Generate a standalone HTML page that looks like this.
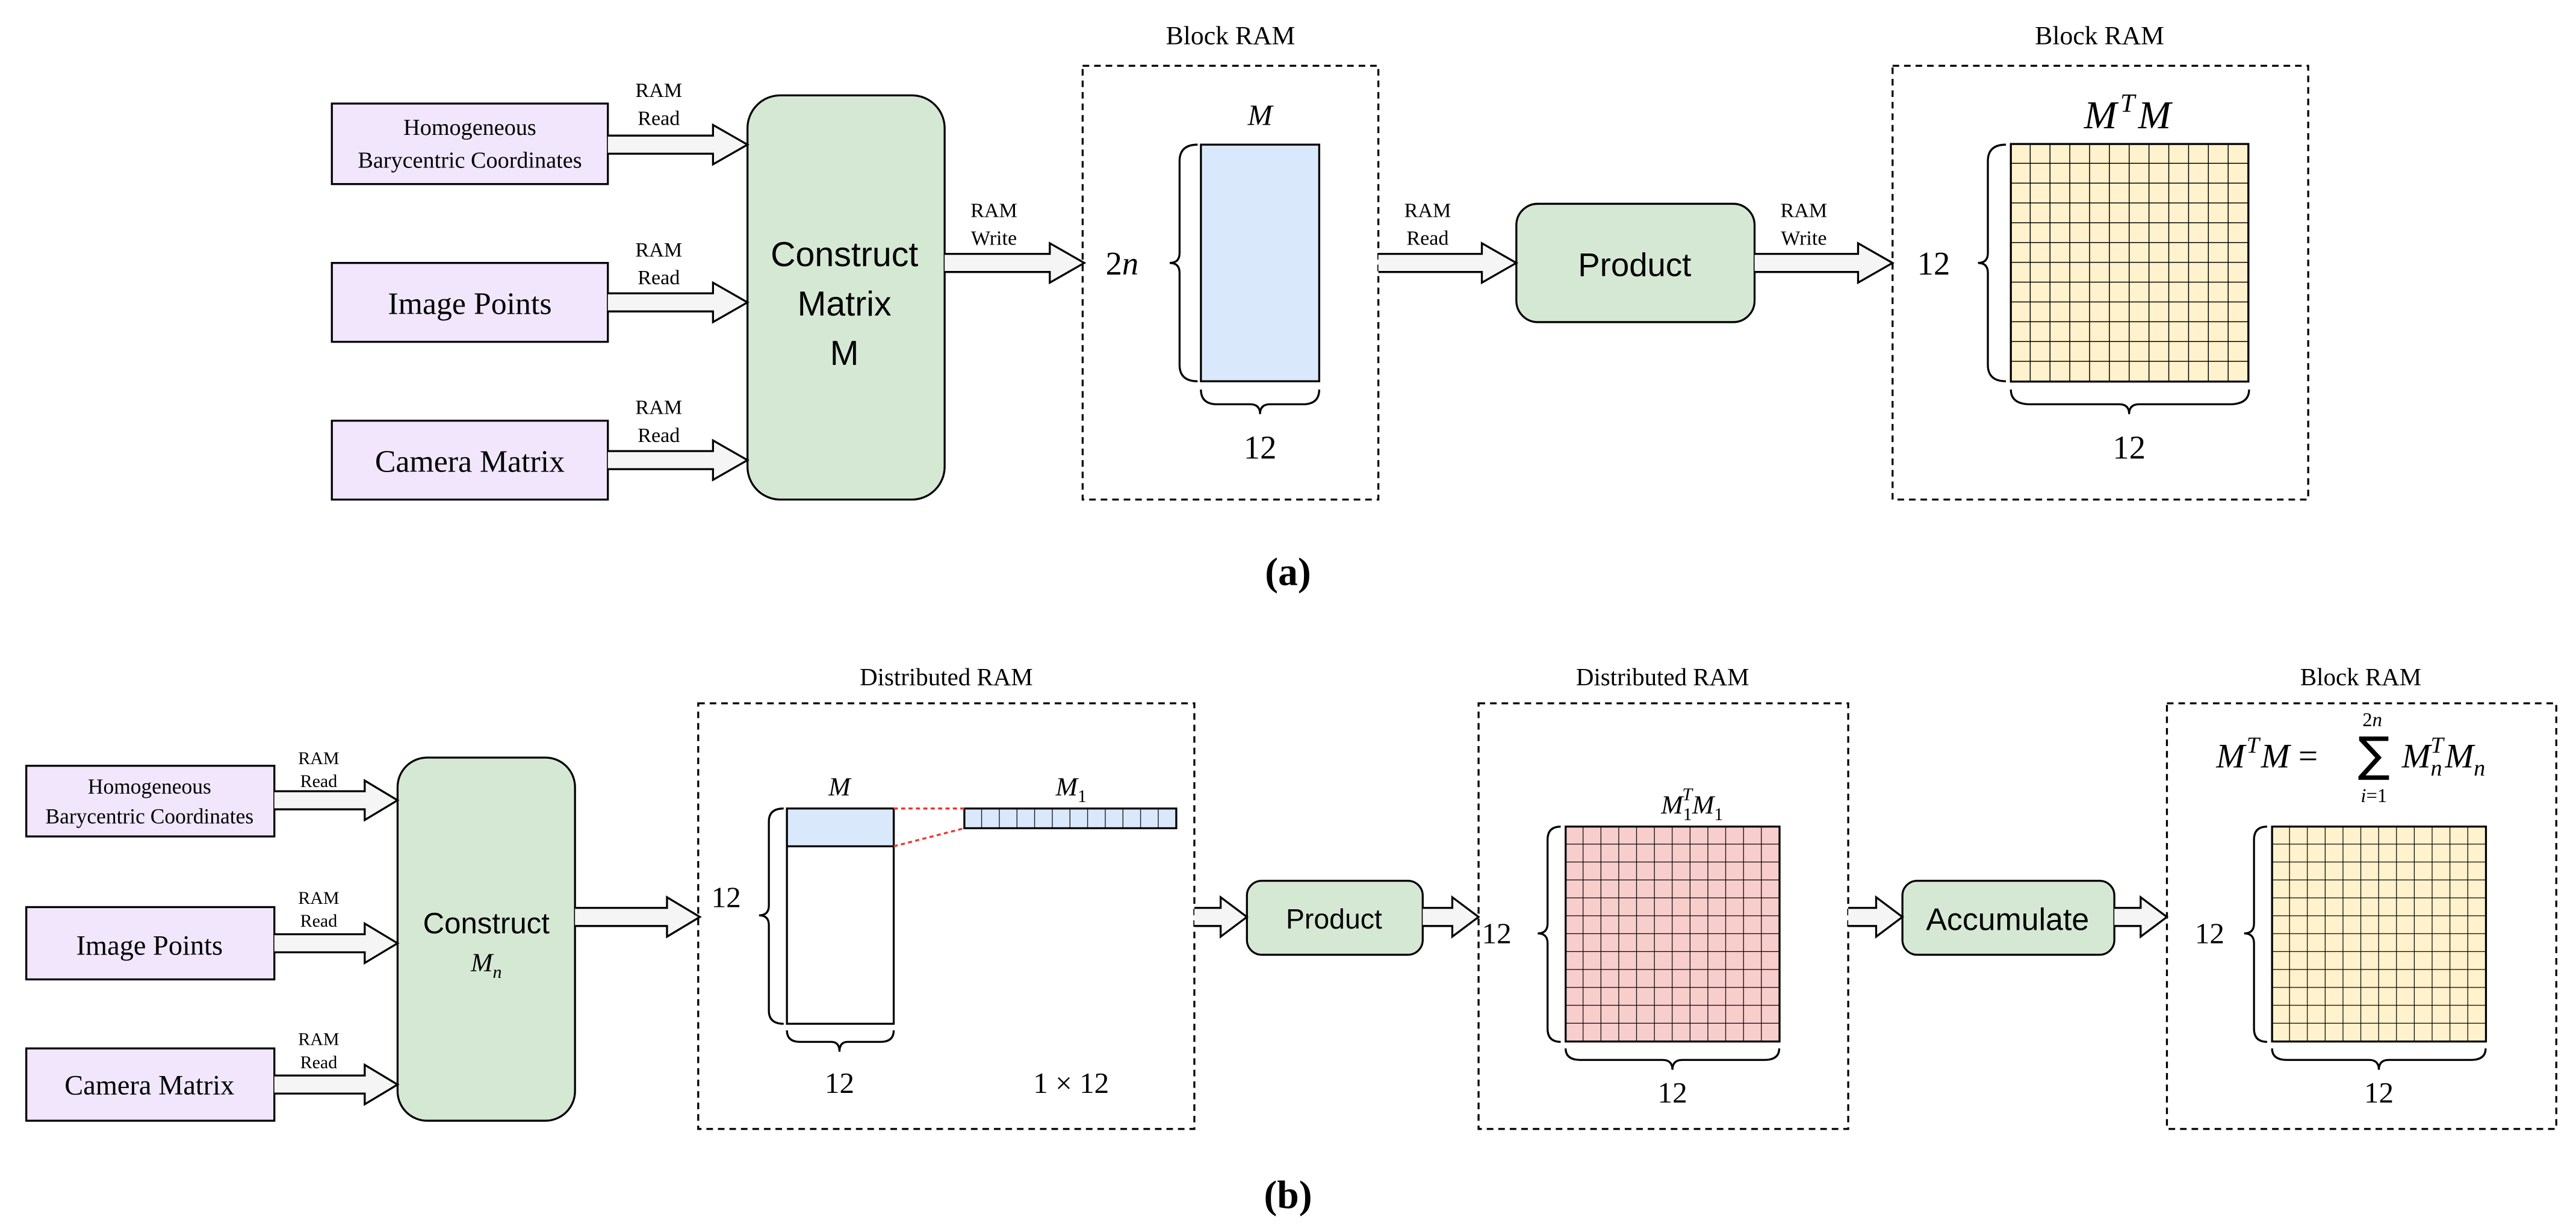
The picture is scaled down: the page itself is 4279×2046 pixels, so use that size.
<!DOCTYPE html>
<html><head><meta charset="utf-8"><style>
html,body{margin:0;padding:0;background:#fff;}
svg{display:block;}
.s{font-family:"Liberation Serif",serif;}
.ss{font-family:"Liberation Sans",sans-serif;}
.i{font-family:"Liberation Serif",serif;font-style:italic;}
</style></head><body>
<svg width="4279" height="2046" viewBox="0 0 1568 749.7" xmlns="http://www.w3.org/2000/svg">
<defs>
<pattern id="g12" x="1224" y="87.6" width="12.05" height="12.05" patternUnits="userSpaceOnUse"><rect width="12.05" height="12.05" fill="#fff2cc"/><path d="M12.05 0V12.05M0 12.05H12.05" stroke="#000" stroke-width="1.1" fill="none"/></pattern>
<pattern id="gp" x="953" y="503" width="10.85" height="10.9" patternUnits="userSpaceOnUse"><rect width="10.85" height="10.9" fill="#f8cecc"/><path d="M10.85 0V10.9M0 10.9H10.85" stroke="#000" stroke-width="0.9" fill="none"/></pattern>
<pattern id="gy" x="1383" y="503" width="10.85" height="10.9" patternUnits="userSpaceOnUse"><rect width="10.85" height="10.9" fill="#fff2cc"/><path d="M10.85 0V10.9M0 10.9H10.85" stroke="#000" stroke-width="0.9" fill="none"/></pattern>
<pattern id="gr" x="587" y="492" width="10.75" height="12" patternUnits="userSpaceOnUse"><rect width="10.75" height="12" fill="#dae8fc"/><path d="M10.75 0V12" stroke="#000" stroke-width="0.9" fill="none"/></pattern>
</defs>
<g stroke="#000" stroke-width="1.2" fill="none">
<rect x="202" y="63" width="168" height="49" fill="#f1e6fb"/>
<rect x="202" y="160" width="168" height="48" fill="#f1e6fb"/>
<rect x="202" y="256" width="168" height="48" fill="#f1e6fb"/>
<rect x="455" y="58" width="120" height="246" rx="20" fill="#d5e8d4"/>
<rect x="659" y="40" width="180" height="264" stroke-dasharray="4,3"/>
<rect x="731" y="88" width="72" height="144" fill="#dae8fc"/>
<rect x="923" y="124" width="145" height="72" rx="13" fill="#d5e8d4"/>
<rect x="1152" y="40" width="253" height="264" stroke-dasharray="4,3"/>
<rect x="1224" y="87.6" width="144.6" height="144.6" fill="url(#g12)"/>
<path d="M729 88 Q718 88 718 98 L718 154 Q718 160 712 160 Q718 160 718 166 L718 222 Q718 232 729 232"/>
<path d="M731 237 Q731 246 741 246 L761 246 Q767 246 767 252 Q767 246 773 246 L793 246 Q803 246 803 237"/>
<path d="M1221 88 Q1210 88 1210 98 L1210 154 Q1210 160 1204 160 Q1210 160 1210 166 L1210 222 Q1210 232 1221 232"/>
<path d="M1224 237 Q1224 246 1236 246 L1290 246 Q1296 246 1296 252 Q1296 246 1302 246 L1357 246 Q1369 246 1369 237"/>
<g fill="#f5f5f5">
<path d="M370 82.5H434V76L455 88L434 100V93.5H370"/>
<path d="M370 178.5H434V172L455 184L434 196V189.5H370"/>
<path d="M370 274.5H434V268L455 280L434 292V285.5H370"/>
<path d="M575 154.5H639V148L660 160L639 172V165.5H575"/>
<path d="M839 154.5H902V148L923 160L902 172V165.5H839"/>
<path d="M1068 154.5H1131V148L1152 160L1131 172V165.5H1068"/>
</g>
<rect x="16" y="466" width="151" height="43" fill="#f1e6fb"/>
<rect x="16" y="552" width="151" height="44" fill="#f1e6fb"/>
<rect x="16" y="638" width="151" height="44" fill="#f1e6fb"/>
<rect x="242" y="461" width="108" height="221" rx="18" fill="#d5e8d4"/>
<rect x="425" y="428" width="302" height="259" stroke-dasharray="4,3"/>
<rect x="479" y="492" width="65" height="131" fill="#fff"/>
<rect x="479" y="492" width="65" height="23" fill="#dae8fc"/>
<rect x="587" y="492" width="129" height="12" fill="url(#gr)"/>
<path d="M544 492H587M544 515L587 504" stroke="#e33" stroke-dasharray="2.5,2"/>
<path d="M477 492 Q468 492 468 500 L468 551 Q468 557 462 557 Q468 557 468 563 L468 615 Q468 623 477 623"/>
<path d="M479 627 Q479 634 487 634 L506 634 Q511 634 511 640 Q511 634 516 634 L536 634 Q544 634 544 627"/>
<rect x="759" y="536" width="107" height="45" rx="9" fill="#d5e8d4"/>
<rect x="900" y="428" width="225" height="259" stroke-dasharray="4,3"/>
<rect x="953" y="503" width="130.2" height="130.8" fill="url(#gp)"/>
<path d="M950 503 Q942 503 942 511 L942 562 Q942 568 936 568 Q942 568 942 574 L942 626 Q942 634 950 634"/>
<path d="M953 638 Q953 645 962 645 L1012 645 Q1018 645 1018 651 Q1018 645 1024 645 L1074 645 Q1083 645 1083 638"/>
<rect x="1158" y="536" width="129" height="45" rx="9" fill="#d5e8d4"/>
<rect x="1319" y="428" width="237" height="259" stroke-dasharray="4,3"/>
<rect x="1383" y="503" width="130.2" height="130.8" fill="url(#gy)"/>
<path d="M1380 503 Q1372 503 1372 511 L1372 562 Q1372 568 1366 568 Q1372 568 1372 574 L1372 626 Q1372 634 1380 634"/>
<path d="M1383 638 Q1383 645 1392 645 L1442 645 Q1448 645 1448 651 Q1448 645 1454 645 L1504 645 Q1513 645 1513 638"/>
<g fill="#f5f5f5">
<path d="M167 481.5H222V475L242 487L222 499V492.5H167"/>
<path d="M167 568.5H222V562L242 574L222 586V579.5H167"/>
<path d="M167 654.5H222V648L242 660L222 672V665.5H167"/>
<path d="M350 552.5H406V546L426 558L406 570V563.5H350"/>
<path d="M727 552.5H743V546L759 558L743 570V563.5H727"/>
<path d="M866 552.5H884V546L900 558L884 570V563.5H866"/>
<path d="M1125 552.5H1142V546L1158 558L1142 570V563.5H1125"/>
<path d="M1287 552.5H1303V546L1319 558L1303 570V563.5H1287"/>
</g>
</g>
<g class="s" text-anchor="middle" fill="#000">
<text x="286" y="82" font-size="14">Homogeneous</text>
<text x="286" y="102" font-size="14">Barycentric Coordinates</text>
<text x="286" y="191" font-size="19">Image Points</text>
<text x="286" y="287" font-size="19">Camera Matrix</text>
<g font-size="12.5">
<text x="401" y="59">RAM</text><text x="401" y="76">Read</text>
<text x="401" y="156">RAM</text><text x="401" y="173">Read</text>
<text x="401" y="252">RAM</text><text x="401" y="269">Read</text>
<text x="605" y="132">RAM</text><text x="605" y="149">Write</text>
<text x="869" y="132">RAM</text><text x="869" y="149">Read</text>
<text x="1098" y="132">RAM</text><text x="1098" y="149">Write</text>
</g>
<text x="749" y="27" font-size="16">Block RAM</text>
<text x="1278" y="27" font-size="16">Block RAM</text>
<text x="767" y="279" font-size="20">12</text>
<text x="1296" y="279" font-size="20">12</text>
<text x="1177" y="167" font-size="20">12</text>
<text x="784" y="356" font-size="24" font-weight="bold">(a)</text>
<text x="91" y="483" font-size="13">Homogeneous</text>
<text x="91" y="501" font-size="13">Barycentric Coordinates</text>
<text x="91" y="581" font-size="17">Image Points</text>
<text x="91" y="666" font-size="17">Camera Matrix</text>
<g font-size="11">
<text x="194" y="465">RAM</text><text x="194" y="479">Read</text>
<text x="194" y="550">RAM</text><text x="194" y="564">Read</text>
<text x="194" y="636">RAM</text><text x="194" y="650">Read</text>
</g>
<text x="576" y="417" font-size="15">Distributed RAM</text>
<text x="1012" y="417" font-size="15">Distributed RAM</text>
<text x="1437" y="417" font-size="15">Block RAM</text>
<text x="442" y="552" font-size="18">12</text>
<text x="511" y="665" font-size="18">12</text>
<text x="652" y="665" font-size="18">1 × 12</text>
<text x="911" y="574" font-size="18">12</text>
<text x="1018" y="671" font-size="18">12</text>
<text x="1345" y="574" font-size="18">12</text>
<text x="1448" y="671" font-size="18">12</text>
<text x="784" y="735" font-size="24" font-weight="bold">(b)</text>
</g>
<g class="i" text-anchor="middle" fill="#000">
<text x="767" y="76" font-size="18">M</text>
<text x="683" y="167" font-size="20"><tspan font-style="normal">2</tspan>n</text>
<text x="1295" y="78" font-size="24">M<tspan dx="2" dy="-10" font-size="16">T</tspan><tspan dx="2" dy="10">M</tspan></text>
<text x="511" y="484" font-size="16">M</text>
<text x="652" y="484" font-size="16">M<tspan dy="4" font-size="11" font-style="normal">1</tspan></text>
<text x="1030" y="495" font-size="16">M<tspan dy="4" font-size="11" font-style="normal">1</tspan><tspan dx="-6" dy="-12" font-size="11">T</tspan><tspan dy="8">M</tspan><tspan dy="4" font-size="11" font-style="normal">1</tspan></text>
<text x="296" y="591" font-size="16">M<tspan dy="4" font-size="11">n</tspan></text>
</g>
<g class="i" fill="#000" font-size="21">
<text x="1349" y="467">M<tspan dx="1" dy="-9" font-size="14">T</tspan><tspan dx="1" dy="9">M</tspan><tspan font-style="normal"> =</tspan></text>
<text x="1445" y="469" font-size="29" font-style="normal" font-family="DejaVu Sans, sans-serif" text-anchor="middle">∑</text>
<text x="1444" y="442" font-size="12" text-anchor="middle"><tspan font-style="normal">2</tspan>n</text>
<text x="1445" y="488" font-size="12" text-anchor="middle">i<tspan font-style="normal">=1</tspan></text>
<text x="1462" y="467">M<tspan dy="5" font-size="14">n</tspan><tspan dx="-7" dy="-14" font-size="14">T</tspan><tspan dx="1" dy="9">M</tspan><tspan dy="5" font-size="14">n</tspan></text>
</g>
<g class="ss" text-anchor="middle" fill="#000">
<text x="514" y="162" font-size="21">Construct</text>
<text x="514" y="192" font-size="21">Matrix</text>
<text x="514" y="222" font-size="21">M</text>
<text x="995" y="168" font-size="20">Product</text>
<text x="296" y="568" font-size="18">Construct</text>
<text x="812" y="565" font-size="17">Product</text>
<text x="1222" y="566" font-size="19">Accumulate</text>
</g>
</svg>
</body></html>
